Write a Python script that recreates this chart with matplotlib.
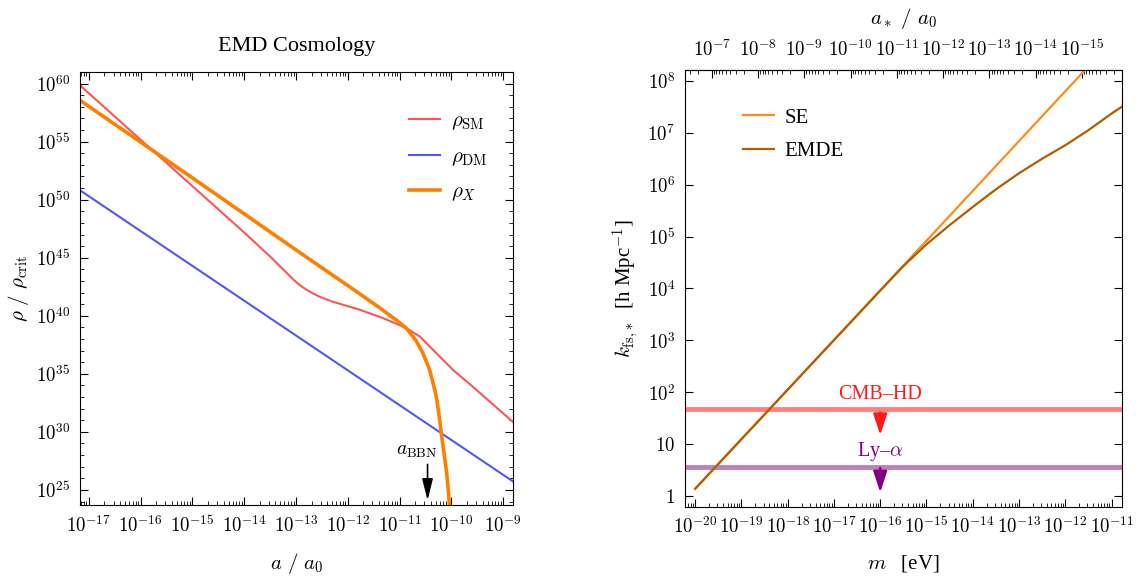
# EMD cosmology densities and free-streaming scale

import numpy as np
import matplotlib.pyplot as plt
from matplotlib.ticker import FixedLocator, FuncFormatter, LogLocator, NullFormatter

plt.rcParams['font.family'] = ['Liberation Serif', 'DejaVu Serif']
plt.rcParams['mathtext.fontset'] = 'cm'

# ---- left panel data (log10 values) ----
log_a_sm = [-17.17, -16.0, -15.0, -14.0, -13.51, -13.18, -13.05, -12.93, -12.80, -12.67,
            -12.50, -12.28, -11.77, -11.32, -10.87, -10.61, -10.29, -9.97, -9.64, -8.81]
log_rho_sm = [59.85, 55.17, 51.17, 47.17, 45.15, 43.70, 43.12, 42.65, 42.25, 41.92,
              41.55, 41.20, 40.52, 39.80, 38.94, 38.22, 36.78, 35.34, 34.1, 30.85]

log_a_dm = [-17.17, -8.81]
log_rho_dm = [50.81, 25.73]

log_a_x = [-17.17, -16.0, -15.0, -14.0, -13.25, -12.60, -11.96, -11.45, -11.06, -10.87,
           -10.67, -10.55, -10.42, -10.32, -10.28, -10.24, -10.19, -10.14, -10.09,
           -10.06, -10.03]
log_rho_x = [58.56, 54.96, 51.88, 48.78, 46.45, 44.44, 42.48, 40.90, 39.62, 38.94,
             37.78, 36.78, 35.34, 33.62, 32.76, 31.5, 29.74, 28.1, 26.44,
             25.0, 23.3]

log_a_bbn = -10.46

# ---- right panel data ----
log_m_se = [-20.0, -18.0, -16.0, -14.0, -12.0, -11.3]
log_k_se = [0.14, 2.05, 3.96, 5.88, 7.80, 8.47]

log_m_emde = [-20.0, -18.0, -16.0, -15.5, -15.0, -14.5, -14.0, -13.5, -13.0,
              -12.5, -12.0, -11.5, -11.0, -10.78]
log_k_emde = [0.14, 2.05, 3.96, 4.43, 4.85, 5.22, 5.57, 5.91, 6.22,
              6.50, 6.76, 7.05, 7.37, 7.50]

k_cmbhd = 47.0
k_lya = 3.67
m_arrow = 1e-16
log_a_star_offset = -26.64   # a_* / a_0 = 10**offset / m


def pow10(v):
    return 10.0 ** np.asarray(v)


def sci_fmt(v, pos):
    e = int(round(np.log10(v)))
    return r'$10^{%d}$' % e


def k_fmt(v, pos):
    e = int(round(np.log10(v)))
    if e == 0:
        return r'$1$'
    if e == 1:
        return r'$10$'
    return r'$10^{%d}$' % e


fig = plt.figure(figsize=(11.37, 5.77), dpi=100)
ax1 = fig.add_axes([80 / 1137, 1 - 505 / 577, 433 / 1137, 433 / 577])
ax2 = fig.add_axes([685 / 1137, 1 - 506.7 / 577, 436.7 / 1137, 436.7 / 577])

# ---- left ----
ax1.plot(pow10(log_a_sm), pow10(log_rho_sm), color='#ff5555', lw=1.5, label=r'$\rho_{\rm SM}$')
ax1.plot(pow10(log_a_dm), pow10(log_rho_dm), color='#5555ff', lw=1.5, label=r'$\rho_{\rm DM}$')
ax1.plot(pow10(log_a_x), pow10(log_rho_x), color='#ff8000', lw=2.6, label=r'$\rho_X$')
ax1.set_xscale('log')
ax1.set_yscale('log')
ax1.set_xlim(10 ** -17.17, 10 ** -8.81)
ax1.set_ylim(10 ** 23.7, 10 ** 61.0)
ax1.xaxis.set_major_locator(FixedLocator([10.0 ** e for e in range(-17, -8)]))
ax1.xaxis.set_minor_locator(LogLocator(base=10, subs=np.arange(2, 10), numticks=30))
ax1.yaxis.set_major_locator(FixedLocator([10.0 ** e for e in range(25, 61, 5)]))
ax1.yaxis.set_minor_locator(FixedLocator([10.0 ** e for e in range(24, 62)]))
ax1.xaxis.set_major_formatter(FuncFormatter(sci_fmt))
ax1.yaxis.set_major_formatter(FuncFormatter(sci_fmt))
ax1.xaxis.set_minor_formatter(NullFormatter())
ax1.yaxis.set_minor_formatter(NullFormatter())
ax1.tick_params(which='both', direction='in', top=True, right=True, labelsize=13.5, pad=7)
ax1.tick_params(which='major', length=6)
ax1.tick_params(which='minor', length=3)
ax1.set_title('EMD Cosmology', fontsize=16, pad=15)
ax1.set_xlabel(r'$a\ /\ a_0$', fontsize=15, labelpad=11)
ax1.set_ylabel(r'$\rho\ /\ \rho_{\rm crit}$', fontsize=15, labelpad=4)

a_bbn = 10 ** log_a_bbn
ax1.annotate('', xy=(a_bbn, 10 ** 24.1), xytext=(a_bbn, 10 ** 27.2),
             arrowprops=dict(arrowstyle='-|>,head_length=1.0,head_width=0.25',
                             color='k', lw=1.2, mutation_scale=13, shrinkA=0, shrinkB=0))
ax1.text(10 ** -10.67, 10 ** 28.3, r'$a_{\rm BBN}$', fontsize=14, ha='center', va='center')

ax1.legend(loc='upper left', bbox_to_anchor=(409 / 1137, 1 - 112 / 577),
           bbox_transform=fig.transFigure, frameon=False, fontsize=15,
           handlelength=1.5, handletextpad=0.5, labelspacing=0.73,
           borderpad=0, borderaxespad=0)

# ---- right ----
ax2.axhline(k_cmbhd, color='#ff8080', lw=3.5)
ax2.axhline(k_lya, color='#c080c0', lw=3.5)
ax2.plot(pow10(log_m_se), pow10(log_k_se), color='#ff8c1a', lw=1.6, label='SE')
ax2.plot(pow10(log_m_emde), pow10(log_k_emde), color='#b35c00', lw=1.6, label='EMDE')
ax2.set_xscale('log')
ax2.set_yscale('log')
ax2.set_xlim(10 ** -20.22, 10 ** -10.78)
ax2.set_ylim(10 ** -0.206, 10 ** 8.21)
ax2.xaxis.set_major_locator(FixedLocator([10.0 ** e for e in range(-20, -10)]))
ax2.xaxis.set_minor_locator(LogLocator(base=10, subs=np.arange(2, 10), numticks=30))
ax2.yaxis.set_major_locator(FixedLocator([10.0 ** e for e in range(0, 9)]))
ax2.xaxis.set_major_formatter(FuncFormatter(sci_fmt))
ax2.yaxis.set_major_formatter(FuncFormatter(k_fmt))
ax2.xaxis.set_minor_formatter(NullFormatter())
ax2.yaxis.set_minor_locator(FixedLocator([]))
ax2.tick_params(which='both', direction='in', top=False, right=True, labelsize=13.5, pad=7)
ax2.tick_params(which='major', length=6)
ax2.tick_params(which='minor', length=3)
ax2.set_xlabel(r'$m$   [eV]', fontsize=15, labelpad=11)
ax2.set_ylabel(r'$k_{\mathrm{fs},\!*}$  [h Mpc$^{-1}$]', fontsize=15, labelpad=4)

arrow_kw = dict(arrowstyle='-|>,head_length=1.0,head_width=0.33', lw=1.6,
                mutation_scale=13, shrinkA=0, shrinkB=0)
ax2.annotate('', xy=(m_arrow, 15.0), xytext=(m_arrow, 41.0),
             arrowprops=dict(color='#ff1a1a', **arrow_kw))
ax2.annotate('', xy=(m_arrow, 1.18), xytext=(m_arrow, 3.5),
             arrowprops=dict(color='#800080', **arrow_kw))
ax2.text(m_arrow, 89, 'CMB–HD', color='#ff1a1a', fontsize=14.5, ha='center', va='center')
ax2.text(m_arrow, 7.1, r'Ly–$\alpha$', color='#800080', fontsize=14.5, ha='center', va='center')

ax2.legend(loc='upper left', bbox_to_anchor=(743 / 1137, 1 - 108 / 577),
           bbox_transform=fig.transFigure, frameon=False, fontsize=15,
           handlelength=1.5, handletextpad=0.5, labelspacing=0.67,
           borderpad=0, borderaxespad=0)


def m_to_a(m):
    m = np.asarray(m, dtype=float)
    m = np.where(m <= 0, 1e-300, m)
    return 10 ** log_a_star_offset / m


sec = ax2.secondary_xaxis('top', functions=(m_to_a, m_to_a))
sec.xaxis.set_major_locator(FixedLocator([10.0 ** e for e in range(-15, -6)]))
sec.xaxis.set_minor_locator(LogLocator(base=10, subs=np.arange(2, 10), numticks=30))
sec.xaxis.set_major_formatter(FuncFormatter(sci_fmt))
sec.xaxis.set_minor_formatter(NullFormatter())
sec.tick_params(which='both', direction='in', labelsize=13.5, pad=7)
sec.tick_params(which='major', length=6)
sec.tick_params(which='minor', length=3)
sec.set_xlabel(r'$a_*\ /\ a_0$', fontsize=15, labelpad=11)

fig.savefig('out.png', dpi=100)
